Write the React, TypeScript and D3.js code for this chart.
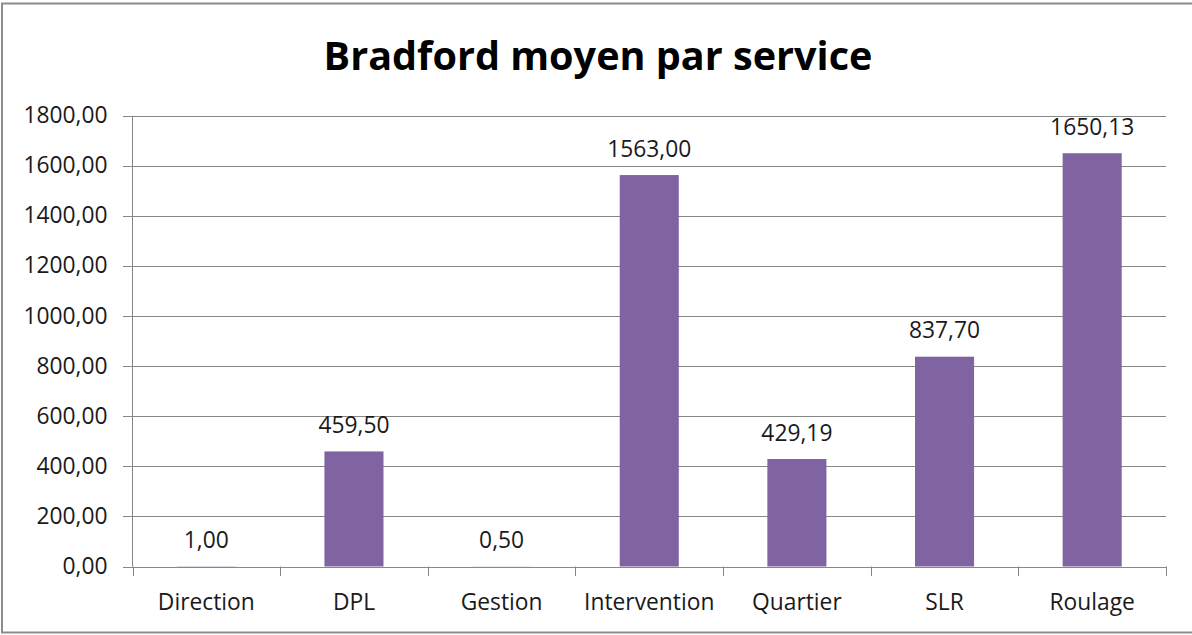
import React from "react";
import * as d3 from "d3";

const categories = ["Direction", "DPL", "Gestion", "Intervention", "Quartier", "SLR", "Roulage"];
const values = [1.0, 459.5, 0.5, 1563.0, 429.19, 837.7, 1650.13];
const yTicks = [0, 200, 400, 600, 800, 1000, 1200, 1400, 1600, 1800];
const title = "Bradford moyen par service";

const W = 1192;
const H = 635;
const FONT = "'Open Sans', 'Liberation Sans', sans-serif";
const GRID = "#878787";
const BAR = "#8064A2";

const locale = d3.formatLocale({ decimal: ",", thousands: "", grouping: [3], currency: ["", "€"] });
const fmt = locale.format(".2f");

export default function App() {
  const x = d3.scaleBand<string>().domain(categories).range([132.5, 1166]).padding(0);
  const y = d3.scaleLinear().domain([0, 1800]).range([566.5, 115.7]);
  const bw = x.bandwidth();
  const barW = bw * 0.4;
  const boundaries = categories.map((c) => x(c) as number).concat([x.range()[1]]);

  return (
    <svg
      width={W}
      height={H}
      style={{ position: "absolute", left: 0, top: 0, background: "#fff" }}
      fontFamily={FONT}
    >
      <rect x={0} y={0} width={W} height={H} fill="#fff" />
      <rect x={2} y={3.5} width={W + 10} height={629} fill="none" stroke="#8c8c8c" strokeWidth={2} />
      <text x={598} y={70} textAnchor="middle" fontSize={39.6} fontWeight="bold" fill="#000">
        {title}
      </text>
      {/* gridlines and y ticks */}
      {yTicks.map((t) => (
        <g key={t}>
          <line x1={123} x2={1166} y1={Math.round(y(t)) + 0.5} y2={Math.round(y(t)) + 0.5} stroke={GRID} strokeWidth={1} />
          <text x={107.5} y={y(t) + 7.5} textAnchor="end" fontSize={22.8} fill="#1a1a1a">
            {fmt(t)}
          </text>
        </g>
      ))}
      {/* y axis line */}
      <line x1={132.5} x2={132.5} y1={y(1800)} y2={y(0)} stroke={GRID} strokeWidth={1} />
      {/* x axis ticks */}
      {boundaries.map((b, i) => (
        <line key={i} x1={Math.round(b) + 0.5} x2={Math.round(b) + 0.5} y1={y(0)} y2={576} stroke={GRID} strokeWidth={1} />
      ))}
      {/* bars */}
      {categories.map((c, i) => (
        <rect
          key={c}
          x={(x(c) as number) + (bw - barW) / 2}
          y={y(values[i])}
          width={barW}
          height={y(0) - y(values[i])}
          fill={BAR}
        />
      ))}
      {/* data labels */}
      {categories.map((c, i) => (
        <text
          key={c}
          x={(x(c) as number) + bw / 2}
          y={y(values[i]) - 18.5}
          textAnchor="middle"
          fontSize={22.8}
          fill="#1a1a1a"
        >
          {fmt(values[i])}
        </text>
      ))}
      {/* category labels */}
      {categories.map((c) => (
        <text key={c} x={(x(c) as number) + bw / 2} y={610} textAnchor="middle" fontSize={22.8} fill="#1a1a1a">
          {c}
        </text>
      ))}
    </svg>
  );
}
